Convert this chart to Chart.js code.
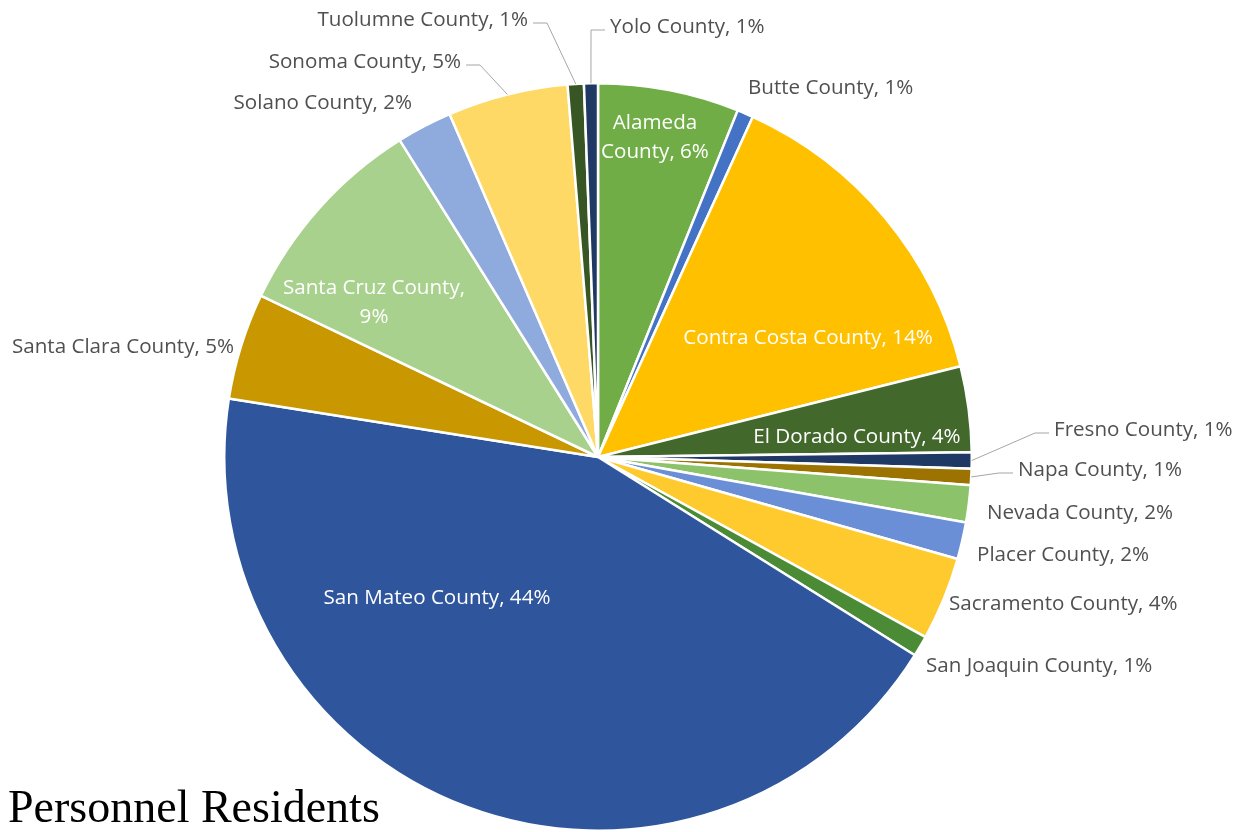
<!DOCTYPE html>
<html>
<head>
<meta charset="utf-8">
<script src="https://cdn.jsdelivr.net/npm/chart.js@4.4.1/dist/chart.umd.min.js"></script>
<style>
  body { margin: 0; background: #fff; }
  #wrap { position: relative; width: 1242px; height: 832px; }
</style>
</head>
<body>
<div id="wrap"><canvas id="pieCanva" width="1242" height="832"></canvas></div>
<script>
// Data
var counties = [
  'Alameda County', 'Butte County', 'Contra Costa County', 'El Dorado County',
  'Fresno County', 'Napa County', 'Nevada County', 'Placer County',
  'Sacramento County', 'San Joaquin County', 'San Mateo County', 'Santa Clara County',
  'Santa Cruz County', 'Solano County', 'Sonoma County', 'Tuolumne County', 'Yolo County'
];
var shares = [6.1, 0.7, 14.3, 3.7, 0.7, 0.7, 1.6, 1.6, 3.6, 0.9, 43.6, 4.6, 9.0, 2.4, 5.2, 0.7, 0.6];
var sliceColors = [
  '#70AD47', '#4472C4', '#FFC000', '#43682B', '#1F3864', '#9C7300', '#8CC36A', '#6B8FD6',
  '#FFCA2E', '#4C8B35', '#2F569C', '#C99700', '#A9D18E', '#8FAADC', '#FFD966', '#375623', '#1F3864'
];
var chartTitle = 'Personnel Residents';

// Label layout (text positions only), same order as counties
// mode: 'in' = white text inside slice, 'out' = gray text outside
var labelLayout = [
  { mode: 'in', x: 655, y: 123, split: ['Alameda', 'County, '] },
  { mode: 'out', align: 'left', x: 748, y: 88 },
  { mode: 'in', x: 808, y: 338 },
  { mode: 'in', x: 857, y: 437 },
  { mode: 'out', align: 'left', x: 1054, y: 430, leader: true },
  { mode: 'out', align: 'left', x: 1018, y: 470, leader: true },
  { mode: 'out', align: 'left', x: 987, y: 513 },
  { mode: 'out', align: 'left', x: 977, y: 555 },
  { mode: 'out', align: 'left', x: 949, y: 604 },
  { mode: 'out', align: 'left', x: 926, y: 666 },
  { mode: 'in', x: 437, y: 598 },
  { mode: 'out', align: 'right', x: 234, y: 347 },
  { mode: 'in', x: 374, y: 288, split: ['Santa Cruz County,', ''] },
  { mode: 'out', align: 'right', x: 412, y: 103 },
  { mode: 'out', align: 'right', x: 461, y: 62, leader: true },
  { mode: 'out', align: 'right', x: 528, y: 20, leader: true },
  { mode: 'out', align: 'left', x: 610, y: 27, leader: true }
];

var labelFont = '20.6px "Open Sans"';

var total = shares.reduce(function (a, b) { return a + b; }, 0);
function pct(v) { return Math.round(v / total * 100) + '%'; }

var labelPlugin = {
  id: 'sliceLabels',
  afterDraw: function (chart) {
    var ctx = chart.ctx;
    var meta = chart.getDatasetMeta(0);
    ctx.save();
    ctx.font = labelFont;
    ctx.textBaseline = 'middle';
    meta.data.forEach(function (arc, i) {
      var lay = labelLayout[i];
      var text = counties[i] + ', ' + pct(shares[i]);
      if (lay.mode === 'in') {
        ctx.fillStyle = '#FFFFFF';
        ctx.textAlign = 'center';
        if (lay.split) {
          ctx.fillText(lay.split[0], lay.x, lay.y);
          ctx.fillText(lay.split[1] + pct(shares[i]), lay.x, lay.y + 29);
        } else {
          ctx.fillText(text, lay.x, lay.y);
        }
        return;
      }
      ctx.fillStyle = '#505050';
      ctx.textAlign = lay.align;
      ctx.fillText(text, lay.x, lay.y);
      if (lay.leader) {
        var mid = (arc.startAngle + arc.endAngle) / 2;
        var px = arc.x + arc.outerRadius * Math.cos(mid);
        var py = arc.y + arc.outerRadius * Math.sin(mid);
        var dir = lay.align === 'left' ? -1 : 1;
        var x0 = lay.x + dir * 5;
        var x1 = x0 + dir * 14;
        var ly = lay.y + 3;
        ctx.strokeStyle = '#A6A6A6';
        ctx.lineWidth = 1;
        ctx.beginPath();
        ctx.moveTo(x0, ly);
        ctx.lineTo(x1, ly);
        ctx.lineTo(px, py);
        ctx.stroke();
      }
    });
    // title
    ctx.fillStyle = '#000000';
    ctx.textAlign = 'left';
    ctx.textBaseline = 'alphabetic';
    ctx.font = '46px "Liberation Serif"';
    ctx.fillText(chartTitle, 8, 822);
    ctx.restore();
  }
};

var ctx = document.getElementById('pieCanva').getContext('2d');

var chartData = {
  labels: counties,
  datasets: [{
    data: shares,
    backgroundColor: sliceColors,
    borderColor: '#FFFFFF',
    borderWidth: 2.5
  }]
};

var chartOptions = {
  responsive: false,
  animation: false,
  layout: { padding: { left: 223, right: 269, top: 82, bottom: 0 } },
  plugins: {
    legend: { display: false },
    tooltip: { enabled: false },
    title: { display: false }
  }
};

var pieChart = new Chart(ctx, {
  type: 'pie',
  data: chartData,
  options: chartOptions,
  plugins: [labelPlugin]
});
</script>
</body>
</html>
